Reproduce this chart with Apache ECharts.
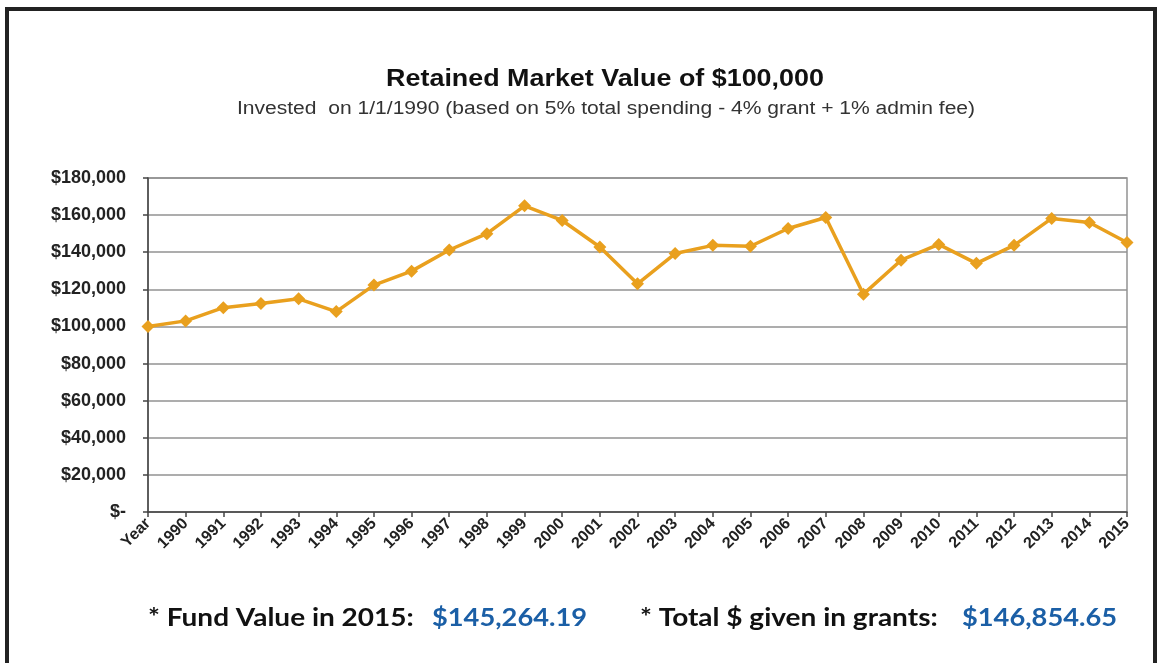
<!DOCTYPE html>
<html>
<head>
<meta charset="utf-8">
<script src="https://cdn.jsdelivr.net/npm/echarts@6/dist/echarts.min.js"></script>
<style>
  html, body { margin: 0; padding: 0; background: #fff; }
  #chart { width: 1158px; height: 663px; }
</style>
</head>
<body>
<div id="chart"></div>
<script>
// categories along the bottom
var years = ['Year', '1990', '1991', '1992', '1993', '1994', '1995', '1996', '1997', '1998', '1999',
  '2000', '2001', '2002', '2003', '2004', '2005', '2006', '2007', '2008', '2009', '2010',
  '2011', '2012', '2013', '2014', '2015'];
// retained market value
var marketValue = [100000, 103000, 110100, 112400, 114900, 108000, 122300, 129800, 141200, 150000, 165000,
  157100, 142800, 123000, 139300, 143700, 143200, 152800, 158700, 117400, 135700, 144200,
  134000, 143700, 158200, 156000, 145264];
var yTicks = { min: 0, max: 180000, step: 20000 };
var fundValue = '$145,264.19';
var grantsTotal = '$146,854.65';

function money(v) {
  if (v === 0) return '$-';
  return '$' + v.toLocaleString('en-US');
}

var keyFont = { fontFamily: 'Lato', fontWeight: 'bold', fontSize: 25, fill: '#111' };
var valFont = { fontFamily: 'Lato', fontWeight: 'bold', fontSize: 25, fill: '#1b5fa6' };

function label(x, y, text, font, sx) {
  return {
    type: 'text', x: x, y: y, scaleX: sx,
    style: Object.assign({ text: text, textVerticalAlign: 'top' }, font)
  };
}

var chart = echarts.init(document.getElementById('chart'));
var option = {
  backgroundColor: '#fff',
  animation: false,
  grid: {
    left: 148, right: 31, top: 178, bottom: 151,
    show: true, borderColor: '#929292', borderWidth: 1.5, backgroundColor: 'transparent'
  },
  xAxis: {
    type: 'category',
    data: years,
    boundaryGap: false,
    axisLine: { lineStyle: { color: '#444', width: 1.5 } },
    axisTick: { show: true, length: 5, lineStyle: { color: '#444', width: 1.5 } },
    axisLabel: {
      rotate: 45, interval: 0, margin: 9,
      fontFamily: 'Liberation Sans', fontWeight: 'bold', fontSize: 16, color: '#222'
    }
  },
  yAxis: {
    type: 'value',
    min: yTicks.min, max: yTicks.max, interval: yTicks.step,
    axisLine: { show: true, lineStyle: { color: '#444', width: 1.5 } },
    axisTick: { show: true, length: 5, lineStyle: { color: '#444', width: 1.5 } },
    splitLine: { lineStyle: { color: '#929292', width: 1.5 } },
    axisLabel: {
      margin: 22, formatter: money,
      fontFamily: 'Liberation Sans', fontWeight: 'bold', fontSize: 18, color: '#222'
    }
  },
  series: [{
    type: 'line',
    data: marketValue,
    symbol: 'diamond',
    symbolSize: 13,
    lineStyle: { color: '#E9A01E', width: 3.5 },
    itemStyle: { color: '#E9A01E' }
  }],
  graphic: [{
    type: 'rect',
    shape: { x: 7, y: 9, width: 1148, height: 700 },
    style: { fill: 'none', stroke: '#222', lineWidth: 4 }
  }, {
    type: 'text', x: 605, y: 67, scaleX: 1.12,
    style: {
      text: 'Retained Market Value of $100,000', textAlign: 'center', textVerticalAlign: 'top',
      fontFamily: 'Liberation Sans', fontWeight: 'bold', fontSize: 24, fill: '#111'
    }
  }, {
    type: 'text', x: 606, y: 100, scaleX: 1.17,
    style: {
      text: 'Invested  on 1/1/1990 (based on 5% total spending - 4% grant + 1% admin fee)',
      textAlign: 'center', textVerticalAlign: 'top',
      fontFamily: 'Liberation Sans', fontSize: 18, fill: '#333'
    }
  },
  label(148, 605, '* Fund Value in 2015:', keyFont, 1.12),
  label(432, 605, fundValue, valFont, 1.09),
  label(640, 605, '* Total $ given in grants:', keyFont, 1.12),
  label(962, 605, grantsTotal, valFont, 1.09)
  ]
};
chart.setOption(option);
</script>
</body>
</html>
